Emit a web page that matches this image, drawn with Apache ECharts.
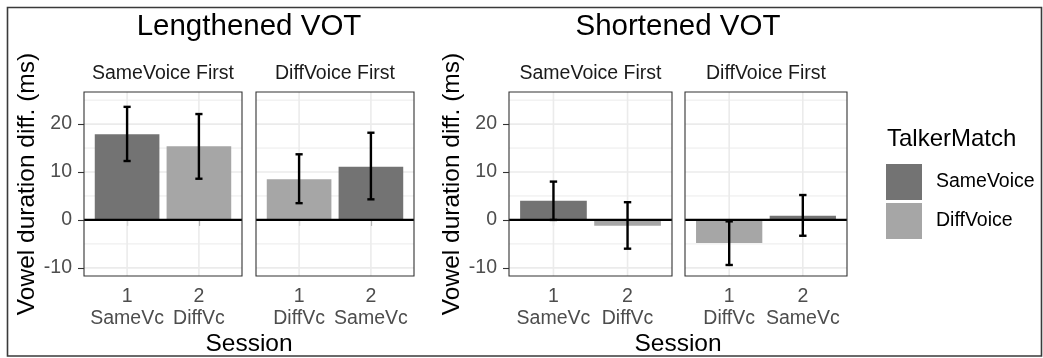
<!DOCTYPE html>
<html><head><meta charset="utf-8">
<script src="https://cdn.jsdelivr.net/npm/echarts@6/dist/echarts.min.js"></script>
<style>html,body{margin:0;padding:0;background:#fff}#c{width:1043px;height:358px}</style>
</head><body><div id="c"></div>
<script>
// ---------------- data ----------------
const plotTitles = ['Lengthened VOT', 'Shortened VOT'];
const facetTitles = ['SameVoice First', 'DiffVoice First', 'SameVoice First', 'DiffVoice First'];
const sessionNumbers = ['1', '2'];
const sessionPositions = [1, 2];
const sessionLabels = [['SameVc', 'DiffVc'], ['DiffVc', 'SameVc'], ['SameVc', 'DiffVc'], ['DiffVc', 'SameVc']];
const talkerMatch = [['SameVoice', 'DiffVoice'], ['DiffVoice', 'SameVoice'], ['SameVoice', 'DiffVoice'], ['DiffVoice', 'SameVoice']];
const meanDiff = [[17.9, 15.4], [8.5, 11.1], [4.0, -1.2], [-4.8, 0.9]];
const ciLow = [[12.3, 8.6], [3.5, 4.3], [0.0, -6.0], [-9.4, -3.3]];
const ciHigh = [[23.6, 22.1], [13.7, 18.2], [8.0, 3.7], [-0.3, 5.2]];
const yMajorTicks = [-10, 0, 10, 20];
const yMinorTicks = [-5, 5, 15, 25];
const referenceLine = [0];
const legendNames = ['SameVoice', 'DiffVoice'];
const legendTitle = 'TalkerMatch';
const yAxisTitle = 'Vowel duration diff. (ms)';
const xAxisTitle = 'Session';

// ---------------- layout / style ----------------
const FONT = 'Liberation Sans';
const colors = { SameVoice: '#737373', DiffVoice: '#a6a6a6' };
const panels = [
  { left: 84, width: 158 }, { left: 256, width: 158 },
  { left: 509, width: 163 }, { left: 685, width: 162 }
];
const panelTop = 92, panelHeight = 184;
const yMin = -11.7, yMax = 26.7, xMin = 0.4, xMax = 2.6;
const barHalf = 0.45, capHalf = 0.05;

const grids = [], xAxes = [], yAxes = [], series = [];
panels.forEach((p, i) => {
  grids.push({ left: p.left, top: panelTop, width: p.width, height: panelHeight, show: false });
  xAxes.push({
    type: 'value', gridIndex: i, min: xMin, max: xMax,
    axisLine: { show: false }, splitLine: { show: false },
    axisTick: { show: true, customValues: sessionPositions, length: 6, lineStyle: { color: '#333', width: 1.1 } },
    axisLabel: {
      customValues: sessionPositions, margin: 10,
      fontFamily: FONT, fontSize: 19.5, color: '#4d4d4d', lineHeight: 22,
      formatter: v => { const j = sessionPositions.indexOf(v); return j < 0 ? '' : sessionNumbers[j] + '\n' + sessionLabels[i][j]; }
    }
  });
  const showY = (i % 2 === 0);
  yAxes.push({
    type: 'value', gridIndex: i, min: yMin, max: yMax,
    axisLine: { show: false }, splitLine: { show: false },
    axisTick: { show: showY, customValues: yMajorTicks, length: 6, lineStyle: { color: '#333', width: 1.1 } },
    axisLabel: { show: showY, customValues: yMajorTicks, margin: 12, fontFamily: FONT, fontSize: 19.5, color: '#4d4d4d' }
  });

  // grid lines
  const gl = [];
  yMinorTicks.forEach(v => gl.push([1, v]));
  yMajorTicks.forEach(v => gl.push([0, v]));
  sessionPositions.forEach(v => gl.push([2, v]));
  series.push({
    type: 'custom', xAxisIndex: i, yAxisIndex: i, z: 1, silent: true, data: gl,
    encode: { x: 0, y: 1 },
    renderItem: (params, api) => {
      const cs = params.coordSys, kind = api.value(0), v = api.value(1);
      if (kind < 2) {
        const y = api.coord([1, v])[1];
        return { type: 'line', shape: { x1: cs.x, y1: y, x2: cs.x + cs.width, y2: y },
          style: { stroke: '#ebebeb', lineWidth: kind === 0 ? 1.6 : 1 } };
      }
      const x = api.coord([v, 0])[0];
      return { type: 'line', shape: { x1: x, y1: cs.y, x2: x, y2: cs.y + cs.height },
        style: { stroke: '#ebebeb', lineWidth: 1.6 } };
    }
  });

  // bars
  legendNames.forEach(name => {
    const d = [];
    sessionPositions.forEach((pos, j) => { if (talkerMatch[i][j] === name) d.push([pos, meanDiff[i][j]]); });
    series.push({
      type: 'custom', name: name, xAxisIndex: i, yAxisIndex: i, z: 2, data: d,
      encode: { x: 0, y: 1 }, itemStyle: { color: colors[name] },
      renderItem: (params, api) => {
        const a = api.coord([api.value(0) - barHalf, api.value(1)]);
        const b = api.coord([api.value(0) + barHalf, 0]);
        return { type: 'rect', shape: { x: a[0], y: Math.min(a[1], b[1]), width: b[0] - a[0], height: Math.abs(b[1] - a[1]) },
          style: { fill: colors[name] } };
      }
    });
  });

  // zero reference line
  series.push({
    type: 'custom', xAxisIndex: i, yAxisIndex: i, z: 3, silent: true,
    data: referenceLine.map(v => [1, v]), encode: { x: 0, y: 1 },
    renderItem: (params, api) => {
      const cs = params.coordSys, y = api.coord([1, api.value(1)])[1];
      return { type: 'line', shape: { x1: cs.x, y1: y, x2: cs.x + cs.width, y2: y }, style: { stroke: '#000', lineWidth: 2.2 } };
    }
  });

  // error bars
  series.push({
    type: 'custom', xAxisIndex: i, yAxisIndex: i, z: 4, silent: true,
    data: sessionPositions.map((pos, j) => [pos, ciLow[i][j], ciHigh[i][j]]),
    encode: { x: 0, y: [1, 2] },
    renderItem: (params, api) => {
      const x = api.value(0), lo = api.value(1), hi = api.value(2);
      const pl = api.coord([x, lo]), ph = api.coord([x, hi]);
      const l1 = api.coord([x - capHalf, lo]), r1 = api.coord([x + capHalf, lo]);
      const l2 = api.coord([x - capHalf, hi]), r2 = api.coord([x + capHalf, hi]);
      const st = { stroke: '#000', lineWidth: 2.4 };
      return { type: 'group', children: [
        { type: 'line', shape: { x1: pl[0], y1: pl[1], x2: ph[0], y2: ph[1] }, style: st },
        { type: 'line', shape: { x1: l1[0], y1: l1[1], x2: r1[0], y2: r1[1] }, style: st },
        { type: 'line', shape: { x1: l2[0], y1: l2[1], x2: r2[0], y2: r2[1] }, style: st }
      ] };
    }
  });

  // panel border
  series.push({
    type: 'custom', xAxisIndex: i, yAxisIndex: i, z: 10, silent: true, data: [[1, 0]], encode: { x: 0, y: 1 },
    renderItem: (params) => {
      const cs = params.coordSys;
      return { type: 'rect', shape: { x: cs.x, y: cs.y, width: cs.width, height: cs.height },
        style: { fill: 'none', stroke: '#333', lineWidth: 1.1 } };
    }
  });
});

const txt = (x, y, text, size, color, rot) => ({
  type: 'text', x: x, y: y, rotation: rot || 0, silent: true,
  style: { text: text, fontFamily: FONT, fontSize: size, fill: color, align: 'center', verticalAlign: 'middle' }
});
const graphics = [
  { type: 'rect', shape: { x: 7.5, y: 7.5, width: 1034, height: 348.5 }, style: { fill: 'none', stroke: '#3a3a3a', lineWidth: 1.6 }, silent: true },
  txt(249, 26.5, plotTitles[0], 29.5, '#000'),
  txt(678, 26.5, plotTitles[1], 29.5, '#000'),
  txt(27.5, 184, yAxisTitle, 24.5, '#000', Math.PI / 2),
  txt(452.5, 184, yAxisTitle, 24.5, '#000', Math.PI / 2),
  txt(249, 344, xAxisTitle, 24.5, '#000'),
  txt(678, 344, xAxisTitle, 24.5, '#000'),
  { type: 'text', x: 887, y: 139, silent: true,
    style: { text: legendTitle, fontFamily: FONT, fontSize: 24, fill: '#000', align: 'left', verticalAlign: 'middle' } }
];
panels.forEach((p, i) => graphics.push(txt(p.left + p.width / 2, 74, facetTitles[i], 19.5, '#1a1a1a')));

const chart = echarts.init(document.getElementById('c'), null, { renderer: 'canvas' });
chart.setOption({
  animation: false,
  backgroundColor: '#fff',
  grid: grids, xAxis: xAxes, yAxis: yAxes, series: series,
  legend: {
    orient: 'vertical', left: 881, top: 159, itemWidth: 36, itemHeight: 36, itemGap: 3,
    icon: 'rect', selectedMode: false,
    data: legendNames.map(n => ({ name: n, itemStyle: { color: colors[n] } })),
    textStyle: { fontFamily: FONT, fontSize: 19.5, color: '#000', padding: [0, 0, 0, 9] }
  },
  graphic: graphics
});
</script>
</body></html>
